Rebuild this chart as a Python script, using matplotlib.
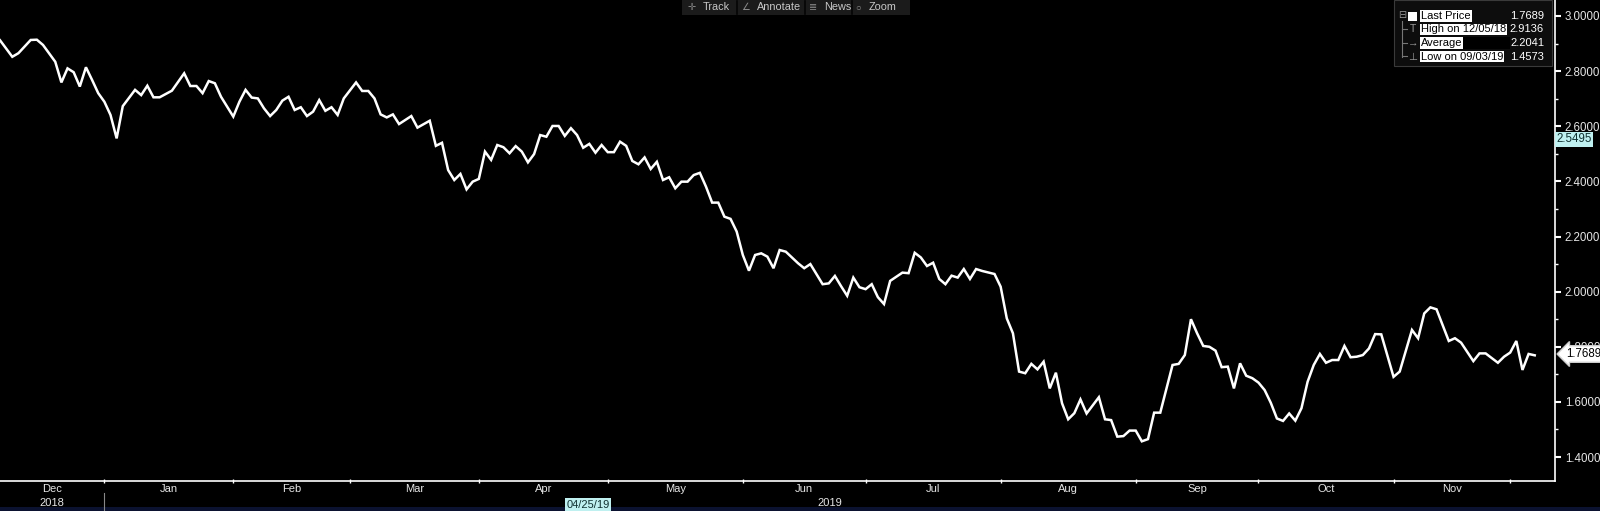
import matplotlib
matplotlib.use("Agg")
import matplotlib.pyplot as plt
from matplotlib.patches import Rectangle
from matplotlib.ticker import FixedLocator, MultipleLocator, FuncFormatter

plt.rcParams['font.family'] = ['Liberation Sans', 'DejaVu Sans']

# trading-day index (0 = first day shown) and yield at each turning point
day = [0, 2, 3, 5, 6, 7, 9, 10, 11, 12, 13, 14, 15, 16, 17, 18, 19, 20, 22, 23,
       24, 25, 26, 28, 30, 31, 32, 33, 34, 35, 36, 38, 39, 40, 41, 42, 43, 44, 45, 46,
       47, 48, 49, 50, 51, 52, 53, 54, 55, 56, 58, 59, 60, 61, 62, 63, 64, 65, 67, 68,
       70, 71, 72, 73, 74, 75, 76, 77, 78, 79, 80, 81, 82, 83, 84, 85, 86, 87, 88, 89,
       90, 91, 92, 93, 94, 95, 96, 97, 98, 99, 100, 101, 102, 103, 104, 105, 106, 107, 108, 109,
       110, 111, 112, 113, 114, 115, 116, 117, 118, 119, 120, 121, 122, 123, 124, 125, 126, 127, 128, 130,
       131, 132, 134, 135, 136, 137, 138, 139, 140, 141, 142, 143, 144, 145, 146, 147, 148, 149, 150, 151,
       152, 153, 154, 155, 156, 157, 158, 159, 160, 162, 163, 164, 165, 166, 167, 168, 169, 170, 171, 172,
       173, 174, 175, 176, 177, 179, 180, 181, 182, 183, 184, 185, 186, 187, 188, 189, 191, 192, 193, 194,
       195, 196, 197, 198, 199, 200, 201, 202, 203, 204, 205, 206, 207, 208, 209, 210, 211, 212, 213, 214,
       215, 216, 217, 218, 219, 220, 221, 222, 223, 224, 225, 227, 228, 230, 231, 232, 233, 234, 236, 237,
       238, 240, 241, 242, 244, 245, 246, 247, 248, 249, 250]
yld = [2.912, 2.852, 2.865, 2.913, 2.914, 2.895, 2.834, 2.759, 2.810, 2.796, 2.744, 2.814, 2.768, 2.720, 2.689, 2.641, 2.556, 2.673, 2.732, 2.713,
       2.747, 2.705, 2.705, 2.729, 2.792, 2.746, 2.746, 2.720, 2.764, 2.756, 2.707, 2.635, 2.689, 2.732, 2.704, 2.701, 2.665, 2.637, 2.659, 2.693,
       2.707, 2.659, 2.669, 2.637, 2.653, 2.695, 2.656, 2.669, 2.641, 2.701, 2.759, 2.728, 2.728, 2.701, 2.643, 2.632, 2.643, 2.608, 2.637, 2.595,
       2.620, 2.529, 2.540, 2.441, 2.405, 2.427, 2.371, 2.399, 2.409, 2.508, 2.478, 2.532, 2.524, 2.502, 2.528, 2.508, 2.469, 2.499, 2.568, 2.562,
       2.601, 2.601, 2.565, 2.593, 2.568, 2.522, 2.536, 2.504, 2.532, 2.506, 2.506, 2.544, 2.529, 2.474, 2.462, 2.487, 2.445, 2.471, 2.405, 2.415,
       2.375, 2.399, 2.399, 2.423, 2.431, 2.381, 2.323, 2.323, 2.272, 2.264, 2.218, 2.133, 2.076, 2.133, 2.139, 2.127, 2.085, 2.151, 2.145, 2.103,
       2.085, 2.100, 2.027, 2.030, 2.057, 2.020, 1.985, 2.051, 2.016, 2.009, 2.027, 1.980, 1.955, 2.039, 2.054, 2.069, 2.067, 2.141, 2.124, 2.093,
       2.105, 2.046, 2.027, 2.058, 2.051, 2.082, 2.046, 2.082, 2.075, 2.064, 2.018, 1.903, 1.849, 1.710, 1.704, 1.738, 1.718, 1.746, 1.649, 1.706,
       1.595, 1.537, 1.559, 1.609, 1.558, 1.617, 1.537, 1.534, 1.474, 1.476, 1.496, 1.496, 1.457, 1.465, 1.561, 1.561, 1.734, 1.738, 1.770, 1.900,
       1.849, 1.803, 1.800, 1.786, 1.726, 1.728, 1.649, 1.740, 1.695, 1.686, 1.670, 1.643, 1.597, 1.540, 1.531, 1.558, 1.532, 1.577, 1.673, 1.734,
       1.774, 1.742, 1.752, 1.752, 1.803, 1.762, 1.764, 1.770, 1.794, 1.846, 1.845, 1.691, 1.710, 1.861, 1.831, 1.921, 1.943, 1.936, 1.821, 1.831,
       1.815, 1.748, 1.776, 1.776, 1.742, 1.764, 1.779, 1.821, 1.716, 1.774, 1.769]

month_start = [17, 38, 57, 78, 99, 121, 141, 163, 185, 205, 227, 246]
month_names = ['Dec', 'Jan', 'Feb', 'Mar', 'Apr', 'May', 'Jun', 'Jul', 'Aug', 'Sep', 'Oct', 'Nov']
years = ['2018', '2019']

legend_labels = ['Last Price', 'High on 12/05/18', 'Average', 'Low on 09/03/19']
legend_values = ['1.7689', '2.9136', '2.2041', '1.4573']
last_tag = '1.7689'
cross_value = '2.5495'
cross_date = '04/25/19'
toolbar = [('\u271b', 'Track'), ('\u2220', 'Annotate'), ('\u2263', 'News'), ('\u25cb', 'Zoom')]

W, H = 1600, 511
x_end = 253.3


def fx(x):
    return x / W


def fy(y):
    return 1 - y / H


fig = plt.figure(figsize=(W / 100, H / 100), dpi=100, facecolor='black')
ax = fig.add_axes([0, 30 / H, 1555 / W, 481 / H])
ax.set_facecolor('black')
ax.plot(day, yld, color='white', lw=1.8, solid_joinstyle='miter', zorder=3)

ax.set_xlim(0, x_end)
ax.set_ylim(1.3131, 3.058)
for s in ['left', 'top']:
    ax.spines[s].set_visible(False)
for s in ['right', 'bottom']:
    ax.spines[s].set_color('white')
    ax.spines[s].set_linewidth(1.2)

# y axis on the right
ax.yaxis.tick_right()
ax.yaxis.set_major_locator(FixedLocator([1.4, 1.6, 1.8, 2.0, 2.2, 2.4, 2.6, 2.8, 3.0]))
ax.yaxis.set_minor_locator(MultipleLocator(0.1))
ax.yaxis.set_major_formatter(FuncFormatter(lambda v, p: '%.4f' % v))
ax.tick_params(axis='y', which='major', colors='white', labelcolor='#e6e6e6',
               length=4, width=1.5, pad=3, labelsize=8.3)
ax.tick_params(axis='y', which='minor', colors='white', length=2, width=1)

# x axis: ticks at month boundaries, names centred in each month
bounds = [0] + month_start
centers = [(bounds[i] + bounds[i + 1]) / 2 for i in range(len(month_names))]
ax.xaxis.set_major_locator(FixedLocator(month_start))
ax.xaxis.set_major_formatter(FuncFormatter(lambda v, p: ''))
ax.set_xticks(centers, month_names, minor=True)
ax.tick_params(axis='x', which='major', colors='white', length=3, width=1, direction='inout')
ax.tick_params(axis='x', which='minor', length=0, pad=2, labelcolor='#e6e6e6', labelsize=8)

# year row
year_x = [(0 + month_start[0]) / 2, (month_start[0] + x_end) / 2]
for yx, yr in zip(year_x, years):
    fig.text(fx(yx / x_end * 1555), fy(503), yr, color='#e6e6e6', fontsize=8,
             ha='center', va='center')
sep_x = month_start[0] / x_end * 1555
fig.add_artist(plt.Line2D([fx(sep_x)] * 2, [fy(493), fy(511)], color='#888888', lw=0.8))
fig.text(fx(588), fy(504.5), cross_date, color='#103030', fontsize=8, ha='center', va='center',
         bbox=dict(boxstyle='square,pad=0.12', fc='#bff0f0', ec='none'))

# dark blue strip at the very bottom
fig.add_artist(Rectangle((0, 0), 1, 4 / H, transform=fig.transFigure, fc='#0b1230', ec='none'))

# value tags on the right axis
fig.text(fx(1556), fy(139.5), cross_value, color='#103030', fontsize=8.3, ha='left', va='center',
         bbox=dict(boxstyle='square,pad=0.12', fc='#bff0f0', ec='none'), zorder=5)
fig.text(fx(1566), fy(354), last_tag, color='black', fontsize=8.3, ha='left', va='center',
         bbox=dict(boxstyle='larrow,pad=0.2', fc='white', ec='#cccccc'), zorder=5)

# legend panel
fig.add_artist(Rectangle((fx(1394), fy(66)), (1552 - 1394) / W, 66 / H, transform=fig.transFigure,
                         fc='#0d0d0d', ec='#3a3a3a', lw=0.8, zorder=4))
rows = [16, 29.5, 43, 56.5]
fig.add_artist(plt.Line2D([fx(1402)] * 2, [fy(21), fy(57)], color='#777777', lw=0.8, zorder=5))
for ry in rows[1:]:
    fig.add_artist(plt.Line2D([fx(1402), fx(1407)], [fy(ry)] * 2, color='#777777', lw=0.8, zorder=5))
fig.text(fx(1402), fy(15), '\u229f', color='#999999', fontsize=7, ha='center', va='center', zorder=6)
fig.add_artist(Rectangle((fx(1408), fy(21)), 9 / W, 9 / H, transform=fig.transFigure,
                         fc='white', ec='none', zorder=6))
icons = ['', 'T', '\u2192', '\u22a5']
for ry, ic in zip(rows, icons):
    if ic:
        fig.text(fx(1413), fy(ry), ic, color='#999999', fontsize=7.5, ha='center', va='center', zorder=6)
fig.add_artist(Rectangle((fx(1460), fy(49)), 50 / W, 12 / H, transform=fig.transFigure,
                         fc='black', ec='none', zorder=5))
for ry, lab, val in zip(rows, legend_labels, legend_values):
    fig.text(fx(1421), fy(ry), lab, color='black', fontsize=8, ha='left', va='center', zorder=6,
             bbox=dict(boxstyle='square,pad=0.08', fc='white', ec='none'))
    fig.text(fx(1544), fy(ry), val, color='white', fontsize=8, ha='right', va='center', zorder=6)

# toolbar on top
fig.add_artist(Rectangle((fx(682), fy(15)), (910 - 682) / W, 15 / H, transform=fig.transFigure,
                         fc='#1b1b1b', ec='none', zorder=4))
tx = [692, 746, 813, 858]
for (ic, name), x0 in zip(toolbar, tx):
    fig.text(fx(x0), fy(7.5), ic, color='#8a8a8a', fontsize=7, ha='center', va='center', zorder=5)
    fig.text(fx(x0 + 11), fy(7.5), name, color='#c8c8c8', fontsize=7.8, ha='left', va='center', zorder=5)
for sx in [737, 805, 852]:
    fig.add_artist(plt.Line2D([fx(sx)] * 2, [fy(1), fy(14)], color='#050505', lw=1.2, zorder=5))

fig.savefig('out.png', dpi=100, facecolor='black')
